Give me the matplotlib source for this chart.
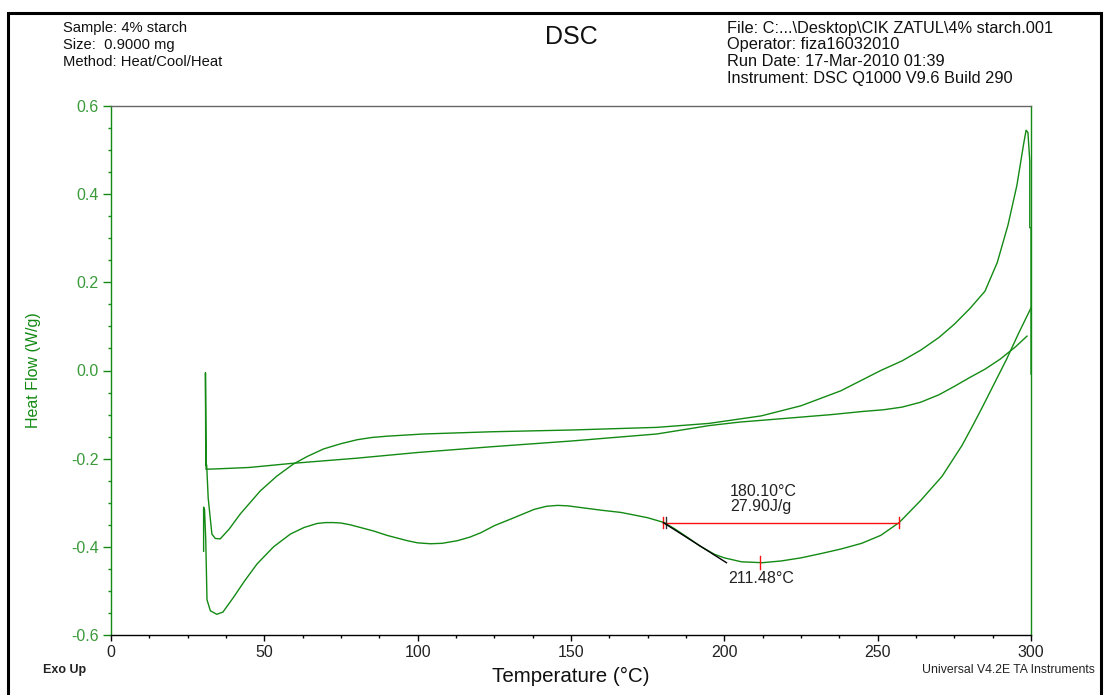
import matplotlib
matplotlib.use("Agg")
import matplotlib.pyplot as plt
from matplotlib.patches import Rectangle
from matplotlib.ticker import MultipleLocator

plt.rcParams["font.family"] = ["Liberation Sans", "DejaVu Sans"]

# DATA

# first heat, ends with the vertical drop at 300 C
heat1_t = [31.2, 31.7, 32.9, 34.0, 35.6, 38.5, 42.2, 48.7, 54.0, 59.5, 64.0,
           69.3, 75.0, 80.3, 85.0, 90.0, 102.0, 124.0, 150.0, 178.0, 195.0,
           212.0, 225.0, 238.0, 251.0, 258.0, 264.0, 270.0, 275.0, 280.0,
           285.0, 289.0, 292.5, 295.4, 297.6, 298.4, 299.0, 299.6, 299.6,
           300.0, 300.0]
heat1_v = [-0.215, -0.29, -0.371, -0.381, -0.382, -0.36, -0.325, -0.273,
           -0.24, -0.212, -0.195, -0.178, -0.166, -0.157, -0.152, -0.149,
           -0.144, -0.139, -0.135, -0.129, -0.12, -0.103, -0.08, -0.046, 0.0,
           0.022, 0.046, 0.075, 0.105, 0.14, 0.18, 0.245, 0.33, 0.42, 0.514,
           0.545, 0.54, 0.475, 0.324, 0.324, -0.008]

# cooling, from 300 C back down to 30 C
cool_t = [298.7, 295.0, 290.0, 285.0, 280.0, 275.0, 270.0, 264.0, 258.0,
          252.0, 245.0, 235.0, 217.5, 205.0, 195.0, 178.0, 150.0, 124.0,
          100.0, 80.0, 58.5, 45.0, 35.0, 31.0, 30.8, 30.9]
cool_v = [0.078, 0.054, 0.026, 0.003, -0.016, -0.036, -0.055, -0.072,
          -0.083, -0.089, -0.093, -0.1, -0.11, -0.117, -0.125, -0.144, -0.16,
          -0.173, -0.186, -0.199, -0.211, -0.22, -0.223, -0.224, -0.005,
          -0.215]

# second heat
heat2_t = [30.2, 30.2, 30.5, 30.9, 31.3, 32.4, 34.5, 36.5, 39.9, 43.5, 47.6,
           53.0, 58.5, 63.0, 67.2, 70.0, 72.5, 75.0, 78.0, 85.6, 90.0, 96.6,
           100.0, 104.2, 108.0, 113.0, 117.0, 120.6, 125.0, 131.4, 138.0,
           142.0, 145.6, 149.0, 153.3, 160.0, 166.3, 170.0, 175.0, 180.4,
           184.0, 188.1, 192.0, 196.8, 200.0, 205.6, 212.4, 218.6, 225.0,
           231.7, 238.0, 244.8, 251.0, 257.0, 264.0, 271.0, 277.5, 281.0,
           284.0, 288.0, 292.0, 296.0, 300.0]
heat2_v = [-0.41, -0.31, -0.315, -0.385, -0.52, -0.545, -0.553, -0.548,
           -0.515, -0.478, -0.439, -0.4, -0.371, -0.356, -0.347, -0.345,
           -0.345, -0.346, -0.35, -0.364, -0.374, -0.386, -0.391, -0.393,
           -0.392, -0.386, -0.378, -0.368, -0.352, -0.334, -0.315, -0.308,
           -0.306, -0.307, -0.311, -0.317, -0.322, -0.327, -0.334, -0.345,
           -0.36, -0.379, -0.398, -0.417, -0.425, -0.434, -0.436, -0.432,
           -0.425, -0.415, -0.405, -0.392, -0.374, -0.345, -0.295, -0.24,
           -0.17, -0.125, -0.085, -0.03, 0.025, 0.085, 0.142]

# peak integration
onset_t = 180.10
end_t = 257.0
base_v = -0.345
peak_t = 211.48
peak_v = -0.436
tangent_t = [180.1, 200.7]
tangent_v = [-0.345, -0.436]

header_left = ["Sample: 4% starch", "Size:  0.9000 mg", "Method: Heat/Cool/Heat"]
header_right = ["File: C:...\\Desktop\\CIK ZATUL\\4% starch.001",
                "Operator: fiza16032010",
                "Run Date: 17-Mar-2010 01:39",
                "Instrument: DSC Q1000 V9.6 Build 290"]

# PLOT

green = "#138a13"
fig = plt.figure(figsize=(11.07, 6.95), dpi=100)
ax = fig.add_axes([111 / 1107, 1 - 635 / 695, 920 / 1107, 529 / 695])

ax.plot(heat1_t, heat1_v, color=green, lw=1.0)
ax.plot(cool_t, cool_v, color=green, lw=1.0)
ax.plot(heat2_t, heat2_v, color=green, lw=1.0)

red = "#ff1010"
ax.plot([onset_t, end_t], [base_v, base_v], color=red, lw=1.0)
ax.plot([onset_t, onset_t], [base_v - 0.012, base_v + 0.012], color=red, lw=1.0)
ax.plot([end_t, end_t], [base_v - 0.013, base_v + 0.013], color=red, lw=1.0)
ax.plot([onset_t + 0.8, onset_t + 0.8], [base_v - 0.012, base_v + 0.012], color="#333333", lw=1.0)
ax.plot(tangent_t, tangent_v, color="black", lw=1.0)
ax.plot([peak_t, peak_t], [peak_v - 0.014, peak_v + 0.016], color=red, lw=1.0)

ax.text(201.8, -0.274, "%.2f°C" % onset_t, fontsize=11.5, color="#222222", va="center")
ax.text(201.8, -0.309, "27.90J/g", fontsize=11.5, color="#222222", va="center")
ax.text(201.4, -0.472, "%.2f°C" % peak_t, fontsize=11.5, color="#222222", va="center")

ax.set_xlim(0, 300)
ax.set_ylim(-0.6, 0.6)
ax.xaxis.set_major_locator(MultipleLocator(50))
ax.xaxis.set_minor_locator(MultipleLocator(12.5))
ax.yaxis.set_major_locator(MultipleLocator(0.2))
ax.yaxis.set_minor_locator(MultipleLocator(0.05))
ax.yaxis.set_major_formatter(plt.FuncFormatter(lambda v, p: "%.1f" % v))

ax.tick_params(axis="y", which="major", direction="out", length=6, width=1,
               color=green, labelcolor="#3a9a3a", labelsize=11.5, pad=3)
ax.tick_params(axis="y", which="minor", direction="out", length=2.5, width=1, color=green)
ax.tick_params(axis="x", which="major", direction="out", length=4, width=1,
               color="black", labelcolor="#222222", labelsize=11.5, pad=3)
ax.tick_params(axis="x", which="minor", direction="out", length=2.5, width=1, color="black")

ax.spines["left"].set_color(green)
ax.spines["right"].set_color(green)
ax.spines["top"].set_color("#666666")
ax.spines["bottom"].set_color("black")
for s in ax.spines.values():
    s.set_linewidth(1.0)

ax.set_ylabel("Heat Flow (W/g)", color=green, fontsize=11.5)
ax.yaxis.set_label_coords(-0.076, 0.5)
ax.set_xlabel("Temperature (°C)", color="#111111", fontsize=14.8, labelpad=5)

# HEADER / FOOTER

for i, s in enumerate(header_left):
    fig.text(63 / 1107, 1 - (28 + 17 * i) / 695, s, fontsize=10.6, va="center", color="#111111")
for i, s in enumerate(header_right):
    fig.text(727 / 1107, 1 - (28 + 17 * i) / 695, s, fontsize=11.8, va="center", color="#111111")
fig.text(571 / 1107, 1 - 37 / 695, "DSC", fontsize=18, ha="center", va="center", color="#111111")

fig.text(43 / 1107, 1 - 670 / 695, "Exo Up", fontsize=9, weight="bold", va="center", color="#222222")
fig.text(922 / 1107, 1 - 670 / 695, "Universal V4.2E TA Instruments", fontsize=8.8,
         va="center", color="#222222")

# outer frame
fig.patches.append(Rectangle((8 / 1107, -0.05), (1101 - 8) / 1107, 1.05 - 13 / 695,
                             transform=fig.transFigure, fill=False, lw=2.2, ec="black"))

fig.savefig("out.png", dpi=100)
